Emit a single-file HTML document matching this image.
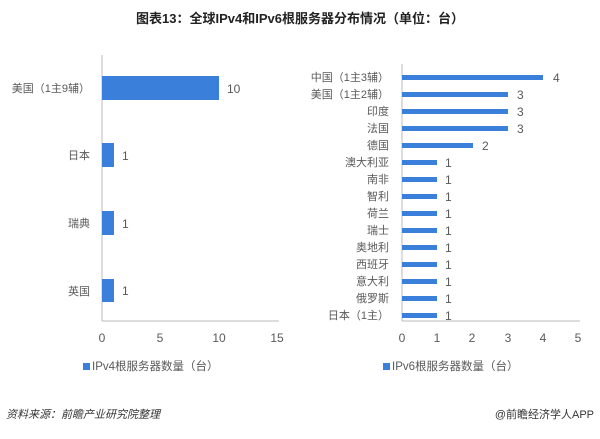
<!DOCTYPE html>
<html><head><meta charset="utf-8"><style>
body{margin:0;background:#fff}
svg text{font-family:"Liberation Sans","Noto Sans CJK SC",sans-serif}
</style></head><body>
<svg width="600" height="434" viewBox="0 0 600 434" xmlns="http://www.w3.org/2000/svg">
<rect width="600" height="434" fill="#fff"/>
<text x="300" y="23" text-anchor="middle" font-size="13" font-weight="bold" fill="#222">图表13：全球IPv4和IPv6根服务器分布情况（单位：台）</text>
<!-- left chart -->
<g fill="#595959" font-size="11">
<line x1="102" y1="55" x2="102" y2="321" stroke="#bbb"/>
<line x1="102" y1="321" x2="279" y2="321" stroke="#bbb"/>
<rect x="102" y="76" width="117" height="24" fill="#3a7fd9"/>
<rect x="102" y="143" width="12" height="24" fill="#3a7fd9"/>
<rect x="102" y="211" width="12" height="24" fill="#3a7fd9"/>
<rect x="102" y="279" width="12" height="23" fill="#3a7fd9"/>
<text x="90" y="92" text-anchor="end">美国（1主9辅）</text>
<text x="90" y="159" text-anchor="end">日本</text>
<text x="90" y="227" text-anchor="end">瑞典</text>
<text x="90" y="295" text-anchor="end">英国</text>
<text x="227" y="93" font-size="12">10</text>
<text x="122" y="160" font-size="12">1</text>
<text x="122" y="228" font-size="12">1</text>
<text x="122" y="295" font-size="12">1</text>
<g font-size="12" text-anchor="middle">
<text x="102" y="342">0</text><text x="160" y="342">5</text><text x="219" y="342">10</text><text x="277" y="342">15</text>
</g>
<rect x="83" y="363" width="7" height="7" fill="#3a7fd9"/>
<text x="92" y="370" font-size="11.5">IPv4根服务器数量（台）</text>
</g>
<!-- right chart -->
<g fill="#595959" font-size="11">
<line x1="402" y1="64" x2="402" y2="321" stroke="#bbb"/>
<line x1="402" y1="321" x2="580" y2="321" stroke="#bbb"/>
<g fill="#3a7fd9">
<rect x="402" y="75" width="141" height="5"/>
<rect x="402" y="92" width="106" height="5"/>
<rect x="402" y="109" width="106" height="5"/>
<rect x="402" y="126" width="106" height="5"/>
<rect x="402" y="143" width="71" height="5"/>
<rect x="402" y="160" width="35" height="5"/>
<rect x="402" y="177" width="35" height="5"/>
<rect x="402" y="194" width="35" height="5"/>
<rect x="402" y="211" width="35" height="5"/>
<rect x="402" y="228" width="35" height="5"/>
<rect x="402" y="245" width="35" height="5"/>
<rect x="402" y="262" width="35" height="5"/>
<rect x="402" y="279" width="35" height="5"/>
<rect x="402" y="296" width="35" height="5"/>
<rect x="402" y="313" width="35" height="5"/>
</g>
<g text-anchor="end">
<text x="389" y="81">中国（1主3辅）</text>
<text x="389" y="98">美国（1主2辅）</text>
<text x="389" y="115">印度</text>
<text x="389" y="132">法国</text>
<text x="389" y="149">德国</text>
<text x="389" y="166">澳大利亚</text>
<text x="389" y="183">南非</text>
<text x="389" y="200">智利</text>
<text x="389" y="217">荷兰</text>
<text x="389" y="234">瑞士</text>
<text x="389" y="251">奥地利</text>
<text x="389" y="268">西班牙</text>
<text x="389" y="285">意大利</text>
<text x="389" y="302">俄罗斯</text>
<text x="389" y="319">日本（1主）</text>
</g>
<g font-size="12">
<text x="553" y="82">4</text><text x="517" y="99">3</text><text x="517" y="116">3</text><text x="517" y="133">3</text><text x="482" y="150">2</text>
<text x="445" y="167">1</text><text x="445" y="184">1</text><text x="445" y="201">1</text><text x="445" y="218">1</text><text x="445" y="235">1</text>
<text x="445" y="252">1</text><text x="445" y="269">1</text><text x="445" y="286">1</text><text x="445" y="303">1</text><text x="445" y="320">1</text>
</g>
<g font-size="12" text-anchor="middle">
<text x="402" y="342">0</text><text x="437" y="342">1</text><text x="472" y="342">2</text><text x="508" y="342">3</text><text x="543" y="342">4</text><text x="578" y="342">5</text>
</g>
<rect x="383" y="363" width="7" height="7" fill="#3a7fd9"/>
<text x="392" y="370" font-size="11.5">IPv6根服务器数量（台）</text>
</g>
<text x="6" y="418" font-size="11" font-style="italic" fill="#333">资料来源：前瞻产业研究院整理</text>
<text x="594" y="418" font-size="11" text-anchor="end" fill="#333">@前瞻经济学人APP</text>
</svg>
</body></html>
